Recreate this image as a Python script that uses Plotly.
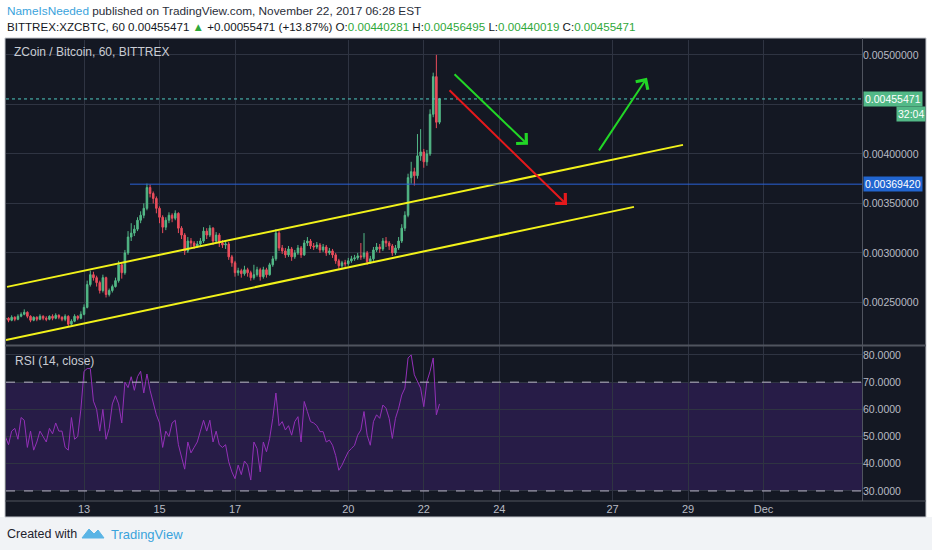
import plotly.graph_objects as go
import pandas as pd

# ============================================================================
# Data: BITTREX:XZCBTC (2-hour candles, price in 1e-5 BTC)
# ============================================================================
start = '2017-11-10 22:00'
first_open_e5 = 233

close_e5 = [
    234, 232, 235, 233, 236, 238, 240, 236, 232, 235,
    233, 236, 234, 233, 236, 234, 237, 235, 233, 236,
    228, 231, 236, 234, 238, 245, 268, 278, 275, 270,
    262, 275, 258, 262, 266, 272, 288, 280, 300, 316,
    320, 324, 333, 338, 345, 366, 360, 355, 345, 336,
    326, 333, 338, 335, 340, 325, 318, 302, 312, 310,
    307, 309, 312, 322, 318, 325, 312, 318, 310, 308,
    309, 296, 290, 280, 282, 279, 283, 280, 275, 278,
    283, 276, 283, 278, 288, 294, 320, 305, 302, 298,
    304, 296, 300, 305, 298, 310, 312, 307, 306, 308,
    303, 306, 300, 302, 298, 292, 287, 290, 289, 292,
    294, 295, 297, 296, 300, 291, 294, 303, 306, 304,
    312, 310, 307, 300, 305, 312, 325, 338, 376, 382,
    378, 398, 402, 392, 400, 440, 478, 432, 455.471,
]
high_e5 = [
    236, 235, 237, 236, 238, 240, 243, 241, 237, 236,
    236, 238, 237, 236, 237, 238, 239, 238, 236, 238,
    237, 233, 238, 237, 241, 248, 272, 282, 281, 277,
    272, 278, 276, 264, 268, 275, 292, 290, 303, 322,
    330, 328, 336, 342, 350, 370, 369, 362, 357, 347,
    338, 336, 341, 340, 343, 341, 327, 320, 316, 315,
    312, 312, 315, 326, 325, 328, 326, 321, 320, 313,
    312, 311, 298, 292, 285, 284, 287, 285, 282, 288,
    286, 285, 286, 285, 290, 297, 324, 322, 308, 305,
    307, 306, 303, 308, 307, 313, 316, 314, 310, 311,
    310, 309, 308, 305, 304, 300, 294, 292, 293, 295,
    297, 298, 300, 310, 320, 302, 297, 306, 310, 309,
    315, 316, 312, 309, 308, 316, 329, 342, 380, 392,
    386, 420, 425, 405, 404, 445, 482, 500, 456.495,
]
low_e5 = [
    231, 230, 231, 231, 232, 235, 237, 234, 230, 231,
    231, 232, 232, 231, 232, 232, 233, 233, 231, 231,
    226, 227, 230, 232, 233, 237, 244, 266, 272, 266,
    259, 260, 255, 256, 260, 265, 270, 274, 278, 298,
    312, 317, 322, 330, 335, 343, 356, 350, 340, 330,
    320, 323, 330, 331, 333, 320, 314, 298, 300, 306,
    304, 305, 307, 310, 314, 316, 308, 310, 306, 305,
    304, 293, 286, 276, 277, 275, 277, 276, 272, 273,
    276, 272, 274, 275, 277, 286, 292, 302, 299, 295,
    296, 292, 294, 298, 295, 297, 307, 304, 303, 304,
    300, 301, 297, 298, 295, 289, 284, 285, 286, 287,
    290, 292, 293, 293, 294, 288, 289, 292, 301, 300,
    302, 306, 303, 297, 298, 303, 310, 322, 336, 370,
    368, 375, 393, 386, 388, 398, 437, 426, 430,
]
rsi = [
    50, 47, 52, 53, 49, 57, 56, 46, 52, 45,
    48, 52, 50, 48, 53, 51, 55, 52, 52, 46,
    45, 57, 49, 50, 60, 74, 75, 75, 63, 60,
    52, 60, 49, 53, 62, 65, 62, 55, 70, 68,
    72, 67, 72, 74, 66, 73, 67, 62, 58, 55,
    46, 52, 50, 55, 56, 47, 42, 38, 48, 44,
    46, 48, 52, 56, 52, 56, 48, 52, 47, 46,
    47, 40.7, 37, 34.5, 39.5, 36, 41, 39.5, 34, 48,
    45.6, 37, 48, 44.4, 49.3, 56.7, 66, 54, 55.5, 52.4,
    54, 50.5, 55.5, 57.3, 48, 62.9, 59.2, 55.5, 55, 54,
    51.8, 51.8, 48, 48.7, 46.8, 43, 37.6, 39.5, 42, 44.4,
    45.6, 46.8, 50.5, 52.4, 59.2, 50.5, 46.8, 55.5, 58, 56.7,
    61.6, 60.4, 56.7, 49.3, 56.7, 60.4, 65.3, 67.8, 78.9, 80,
    72.7, 70.2, 67.8, 61, 70.2, 74, 78.9, 58, 62,
]

last_price = 0.00455471
level_price = 0.00369420
level_start = '2017-11-14 05:15'

# price axis ticks (0.0045 sits under the price tag, so its label is left blank)
price_ticks = [0.0025, 0.003, 0.0035, 0.004, 0.0045, 0.005]
price_labels = ['0.00250000', '0.00300000', '0.00350000', '0.00400000', '', '0.00500000']

# drawings on the chart (time, price)
upper_t = ['2017-11-10 23:03', '2017-11-28 20:48']
upper_p = [0.002657, 0.004091]
lower_t = ['2017-11-10 22:24', '2017-11-27 13:38']
lower_p = [0.002121, 0.003465]
arrows = [  # (tail time, tail price, head time, head price, colour)
    ('2017-11-22 18:36', 0.004818, '2017-11-24 18:16', 0.004091, '#22d626'),
    ('2017-11-22 15:24', 0.004657, '2017-11-25 19:04', 0.003485, '#e5191c'),
    ('2017-11-26 14:46', 0.004020, '2017-11-27 21:55', 0.004768, '#22d626'),
]

day_ticks = ['2017-11-13', '2017-11-15', '2017-11-17', '2017-11-20', '2017-11-22',
             '2017-11-24', '2017-11-27', '2017-11-29', '2017-12-01']
day_labels = ['13', '15', '17', '20', '22', '24', '27', '29', 'Dec']
x_range = ['2017-11-10 22:24', '2017-12-03 14:36']

# ============================================================================
# build
# ============================================================================
times = pd.date_range(start, periods=len(close_e5), freq='2h')
closes = [c * 1e-5 for c in close_e5]
opens = [first_open_e5 * 1e-5] + closes[:-1]
highs = [max(h * 1e-5, o, c) for h, o, c in zip(high_e5, opens, closes)]
lows = [min(l * 1e-5, o, c) for l, o, c in zip(low_e5, opens, closes)]

W, H = 932, 550
def px(x):
    return x / W
def py(y):
    return 1 - y / H

BG = '#141823'
GRID = '#2f3442'
TXT = '#b8bbc3'
UP = '#53b987'
DOWN = '#eb4d5c'

fig = go.Figure()

fig.add_trace(go.Candlestick(
    x=times, open=opens, high=highs, low=lows, close=closes,
    increasing=dict(line=dict(color=UP, width=1), fillcolor=UP),
    decreasing=dict(line=dict(color=DOWN, width=1), fillcolor=DOWN),
    whiskerwidth=0, xaxis='x', yaxis='y',
))

for tt, pp in [(upper_t, upper_p), (lower_t, lower_p)]:
    fig.add_trace(go.Scatter(x=tt, y=pp, mode='lines', line=dict(color='#f2f21a', width=2),
                             xaxis='x', yaxis='y', hoverinfo='skip'))

fig.add_trace(go.Scatter(x=times, y=rsi, mode='lines', line=dict(color='#9330b8', width=1),
                         xaxis='x2', yaxis='y2'))

shapes = [
    # page background bits and dark chart frame
    dict(type='rect', xref='paper', yref='paper', x0=0, x1=1, y0=0, y1=py(517),
         fillcolor='#f1f3f6', line=dict(width=0), layer='below'),
    dict(type='rect', xref='paper', yref='paper', x0=px(5), x1=px(926), y0=py(517), y1=py(38),
         fillcolor=BG, line=dict(color='#c4c7cd', width=1), layer='below'),
    # rsi 30-70 band
    dict(type='rect', xref='x2 domain', yref='y2', x0=0, x1=1, y0=30, y1=70,
         fillcolor='#271c47', line=dict(width=0), layer='below'),
    dict(type='line', xref='x2 domain', yref='y2', x0=0, x1=1, y0=70, y1=70,
         line=dict(color='#b9b5c8', width=1, dash='dash')),
    dict(type='line', xref='x2 domain', yref='y2', x0=0, x1=1, y0=30, y1=30,
         line=dict(color='#b9b5c8', width=1, dash='dash')),
    # separators
    dict(type='line', xref='paper', yref='paper', x0=px(5), x1=px(926), y0=py(345.5), y1=py(345.5),
         line=dict(color='#50545f', width=2)),
    dict(type='line', xref='paper', yref='paper', x0=px(862.5), x1=px(862.5), y0=py(501), y1=py(38),
         line=dict(color='#50545f', width=1)),
    dict(type='line', xref='paper', yref='paper', x0=px(5), x1=px(926), y0=py(501), y1=py(501),
         line=dict(color='#50545f', width=1)),
    # last price and level lines
    dict(type='line', xref='x domain', yref='y', x0=0, x1=1, y0=last_price, y1=last_price,
         line=dict(color='#4fc9c0', width=1, dash='dot')),
    dict(type='line', xref='x', yref='y', x0=level_start, x1=x_range[1], y0=level_price, y1=level_price,
         line=dict(color='#2a62d6', width=1)),
    # footer logo
    dict(type='path', xref='paper', yref='paper',
         path=f'M {px(82)},{py(538)} L {px(89)},{py(529)} L {px(94)},{py(534)} L {px(98)},{py(530)} '
              f'L {px(104)},{py(538)} Z',
         fillcolor='#5ab4e5', line=dict(color='#5ab4e5', width=1)),
]

annotations = [
    dict(xref='paper', yref='paper', x=px(5), y=py(11), xanchor='left', yanchor='middle', showarrow=False,
         text="<span style='color:#3aa3dc'>NameIsNeeded</span> published on TradingView.com, November 22, 2017 06:28 EST",
         font=dict(size=11.8, color='#2a2e39')),
    dict(xref='paper', yref='paper', x=px(5), y=py(27), xanchor='left', yanchor='middle', showarrow=False,
         text="BITTREX:XZCBTC, 60 0.00455471 <span style='color:#2fa83a'>▲</span> +0.00055471 (+13.87%) "
              "O:<span style='color:#2fa83a'>0.00440281</span> H:<span style='color:#2fa83a'>0.00456495</span> "
              "L:<span style='color:#2fa83a'>0.00440019</span> C:<span style='color:#2fa83a'>0.00455471</span>",
         font=dict(size=11.6, color='#131722')),
    dict(xref='paper', yref='paper', x=px(12), y=py(52), xanchor='left', yanchor='middle', showarrow=False,
         text='ZCoin / Bitcoin, 60, BITTREX', font=dict(size=12, color='#c9ccd3')),
    dict(xref='paper', yref='paper', x=px(13), y=py(361), xanchor='left', yanchor='middle', showarrow=False,
         text='RSI (14, close)', font=dict(size=12, color='#c9ccd3')),
    dict(xref='paper', yref='y', x=px(863), y=last_price, xanchor='left', yanchor='middle', showarrow=False,
         text='0.00455471', bgcolor=UP, borderpad=1, font=dict(size=10.5, color='white')),
    dict(xref='paper', yref='paper', x=px(926), y=py(114), xanchor='right', yanchor='middle', showarrow=False,
         text='32:04', bgcolor=UP, borderpad=1, font=dict(size=10.5, color='white')),
    dict(xref='paper', yref='y', x=px(863), y=level_price, xanchor='left', yanchor='middle', showarrow=False,
         text='0.00369420', bgcolor='#2165d0', borderpad=1, font=dict(size=10.5, color='white')),
    dict(xref='paper', yref='paper', x=px(5), y=py(534), xanchor='left', yanchor='middle', showarrow=False,
         text='Created with', font=dict(size=12.5, color='#1e222d')),
    dict(xref='paper', yref='paper', x=px(109), y=py(534), xanchor='left', yanchor='middle', showarrow=False,
         text='TradingView', font=dict(size=13, color='#3aa3dc')),
]
for t0, p0, t1, p1, col in arrows:
    annotations.append(dict(xref='x', yref='y', axref='x', ayref='y', x=t1, y=p1, ax=t0, ay=p0,
                            text='', showarrow=True, arrowhead=4, arrowsize=1.4, arrowwidth=2,
                            arrowcolor=col))

axis_font = dict(size=10.5, color=TXT, family='Liberation Sans, Arial')
fig.update_layout(
    width=W, height=H, margin=dict(l=0, r=0, t=0, b=0),
    paper_bgcolor='white', plot_bgcolor='rgba(0,0,0,0)',
    showlegend=False, hovermode=False,
    font=dict(family='Liberation Sans, Arial'),
    xaxis=dict(domain=[px(6), px(862)], anchor='y', range=x_range, type='date',
               tickvals=day_ticks, showticklabels=False, showgrid=True, gridcolor=GRID,
               zeroline=False, showline=False, rangeslider=dict(visible=False)),
    yaxis=dict(domain=[py(345), py(40)], anchor='x', side='right', range=[0.00207, 0.00515],
               tickvals=price_ticks, ticktext=price_labels,
               showgrid=True, gridcolor=GRID, zeroline=False, tickfont=axis_font, ticks=''),
    xaxis2=dict(domain=[px(6), px(862)], anchor='y2', range=x_range, type='date', matches='x',
                tickvals=day_ticks, ticktext=day_labels, showgrid=True, gridcolor=GRID,
                zeroline=False, tickfont=dict(size=11, color=TXT), ticks=''),
    yaxis2=dict(domain=[py(501), py(346)], anchor='x2', side='right', range=[26.3, 83.3],
                tickvals=[30, 40, 50, 60, 70, 80], tickformat='.4f',
                showgrid=True, gridcolor=GRID, zeroline=False, tickfont=axis_font, ticks=''),
    shapes=shapes, annotations=annotations,
)

# the page's default body margin would push the figure 8px off; drop it
fig.write_html('out.html', config={'displayModeBar': False},
               post_script="document.body.style.margin='0';")
